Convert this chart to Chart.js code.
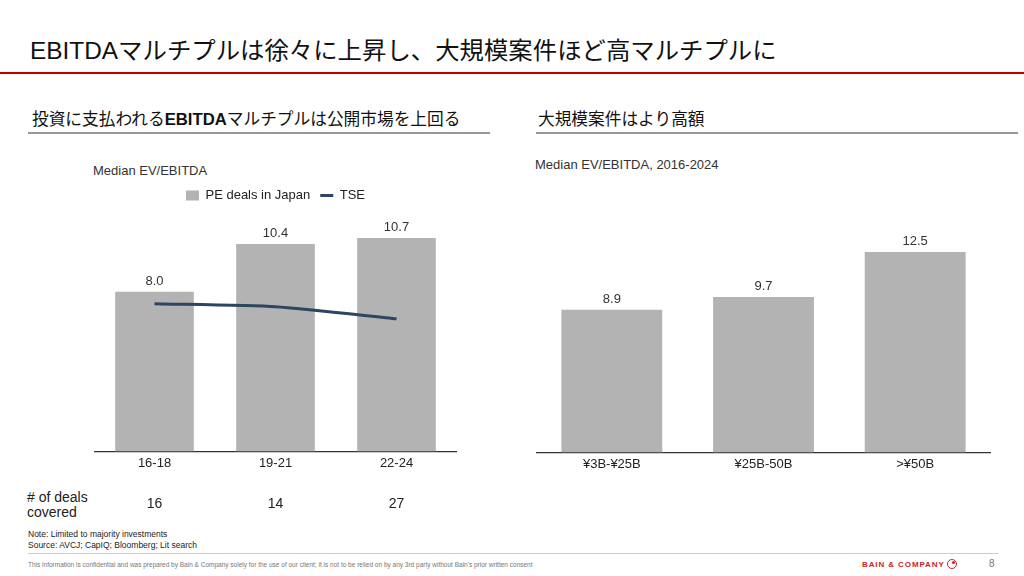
<!DOCTYPE html>
<html>
<head>
<meta charset="utf-8">
<script src="https://cdn.jsdelivr.net/npm/chart.js@4.4.1/dist/chart.umd.min.js"></script>
<style>
  html,body{margin:0;padding:0;background:#fff;}
  #page{position:relative;width:1024px;height:576px;overflow:hidden;font-family:"Liberation Sans","Noto Sans CJK JP",sans-serif;color:#222;}
  .abs{position:absolute;white-space:nowrap;}
  #title{left:30px;top:36px;font-size:24.4px;line-height:30px;color:#111;}
  #redline{left:0;top:72px;width:1024px;height:1.5px;background:#c00000;}
  .hdr{top:109px;font-size:16.7px;line-height:22px;color:#111;}
  .hdrline{top:132px;height:2px;background:#999;}
  .sub{font-size:13px;line-height:16px;color:#333;}
  .chartbox{position:absolute;}
  #deals{left:27px;top:490px;font-size:14px;line-height:15px;color:#222;}
  #notes{left:28px;top:529px;font-size:8.5px;line-height:11px;color:#222;}
  #footline{left:28px;top:553px;width:970px;height:1px;background:#ccc;}
  #foot{left:28px;top:561px;font-size:6.5px;line-height:8px;color:#777;}
  #logo{left:862px;top:560px;font-size:8px;line-height:10px;font-weight:bold;color:#cc1f2d;letter-spacing:0.9px;}
  #logoc{left:947px;top:559px;width:8px;height:8px;border:1.5px solid #cc1f2d;border-radius:50%;}
  #logod{left:952px;top:561px;width:3px;height:3px;background:#cc1f2d;border-radius:50%;}
  #pnum{left:989px;top:558px;font-size:10px;line-height:12px;color:#777;}
</style>
</head>
<body>
<div id="page">
  <div id="title" class="abs">EBITDAマルチプルは徐々に上昇し、大規模案件ほど高マルチプルに</div>
  <div id="redline" class="abs"></div>

  <div class="abs hdr" style="left:32px;">投資に支払われる<b>EBITDA</b>マルチプルは公開市場を上回る</div>
  <div class="abs hdrline" style="left:28px;width:462px;"></div>
  <div class="abs hdr" style="left:538px;">大規模案件はより高額</div>
  <div class="abs hdrline" style="left:536px;width:482px;"></div>

  <div class="abs sub" style="left:93px;top:163px;">Median EV/EBITDA</div>
  <div class="abs sub" style="left:535px;top:157px;">Median EV/EBITDA, 2016-2024</div>

  <div class="chartbox" style="left:94px;top:179px;width:363px;height:336px;"><canvas id="c1"></canvas></div>
  <div class="chartbox" style="left:536px;top:228px;width:455px;height:248px;"><canvas id="c2"></canvas></div>

  <div id="deals" class="abs"># of deals<br>covered</div>
  <div id="notes" class="abs">Note: Limited to majority investments<br>Source: AVCJ; CapIQ; Bloomberg; Lit search</div>
  <div id="footline" class="abs"></div>
  <div id="foot" class="abs">This information is confidential and was prepared by Bain &amp; Company solely for the use of our client; it is not to be relied on by any 3rd party without Bain's prior written consent</div>
  <div id="logo" class="abs">BAIN &amp; COMPANY</div>
  <div id="logoc" class="abs"></div>
  <div id="logod" class="abs"></div>
  <div id="pnum" class="abs">8</div>
</div>

<script>
// ---- Data ----
const periods = ["16-18", "19-21", "22-24"];
const peDeals = [8.0, 10.4, 10.7];
const tse = [7.4, 7.25, 6.65];
const dealCounts = ["16", "14", "27"];

const sizeBands = ["¥3B-¥25B", "¥25B-50B", ">¥50B"];
const sizeMultiples = [8.9, 9.7, 12.5];

// ---- Styles ----
const FONT = '"Liberation Sans", "Noto Sans CJK JP", sans-serif';
const BAR = '#b3b3b3';
const NAVY = '#2c4560';

const valueLabels = {
  id: 'valueLabels',
  afterDatasetsDraw(chart) {
    const ctx = chart.ctx;
    chart.data.datasets.forEach((ds, i) => {
      if (!ds.showValues) return;
      const meta = chart.getDatasetMeta(i);
      meta.data.forEach((el, j) => {
        ctx.save();
        ctx.font = '13px ' + FONT;
        ctx.fillStyle = '#333';
        ctx.textAlign = 'center';
        ctx.textBaseline = 'bottom';
        ctx.fillText(ds.data[j].toFixed(1), el.x, el.y - 4);
        ctx.restore();
      });
    });
  }
};

// draws the "# of deals covered" row under each category using the x scale
const countRow = {
  id: 'countRow',
  afterDraw(chart, args, opts) {
    if (!opts.values) return;
    const ctx = chart.ctx;
    const xs = chart.scales.x;
    ctx.save();
    ctx.font = '14px ' + FONT;
    ctx.fillStyle = '#222';
    ctx.textAlign = 'center';
    ctx.textBaseline = 'middle';
    opts.values.forEach((v, i) => {
      ctx.fillText(v, xs.getPixelForValue(i), chart.chartArea.bottom + 53);
    });
    ctx.restore();
  }
};

const xAxis = {
  grid: { display: false, drawTicks: false },
  border: { display: true, color: '#333', width: 1.3 },
  ticks: { color: '#222', font: { family: FONT, size: 13 }, padding: 4 }
};

new Chart(document.getElementById('c1'), {
  data: {
    labels: periods,
    datasets: [
      { type: 'line', label: 'TSE', data: tse, borderColor: NAVY, backgroundColor: NAVY,
        borderWidth: 3, pointRadius: 0, tension: 0.2, pointStyle: 'line' },
      { type: 'bar', label: 'PE deals in Japan', data: peDeals, backgroundColor: BAR,
        categoryPercentage: 1.0, barPercentage: 0.65, showValues: true, pointStyle: 'rect' }
    ]
  },
  options: {
    responsive: true, maintainAspectRatio: false, animation: false,
    layout: { padding: { bottom: 40 } },
    plugins: {
      legend: {
        display: true, position: 'top', reverse: true,
        labels: { usePointStyle: true, boxWidth: 10, boxHeight: 10, pointStyleWidth: 13,
          color: '#222', font: { family: FONT, size: 13 }, padding: 10 }
      },
      tooltip: { enabled: false },
      countRow: { values: dealCounts }
    },
    scales: {
      x: xAxis,
      y: { display: false, min: 0, max: 12 }
    }
  },
  plugins: [valueLabels, countRow]
});

new Chart(document.getElementById('c2'), {
  type: 'bar',
  data: {
    labels: sizeBands,
    datasets: [
      { label: 'Median EV/EBITDA', data: sizeMultiples, backgroundColor: BAR,
        categoryPercentage: 1.0, barPercentage: 0.665, showValues: true }
    ]
  },
  options: {
    responsive: true, maintainAspectRatio: false, animation: false,
    layout: { padding: 0 },
    plugins: { legend: { display: false }, tooltip: { enabled: false } },
    scales: {
      x: xAxis,
      y: { display: false, min: 0, max: 14 }
    }
  },
  plugins: [valueLabels]
});
</script>
</body>
</html>
